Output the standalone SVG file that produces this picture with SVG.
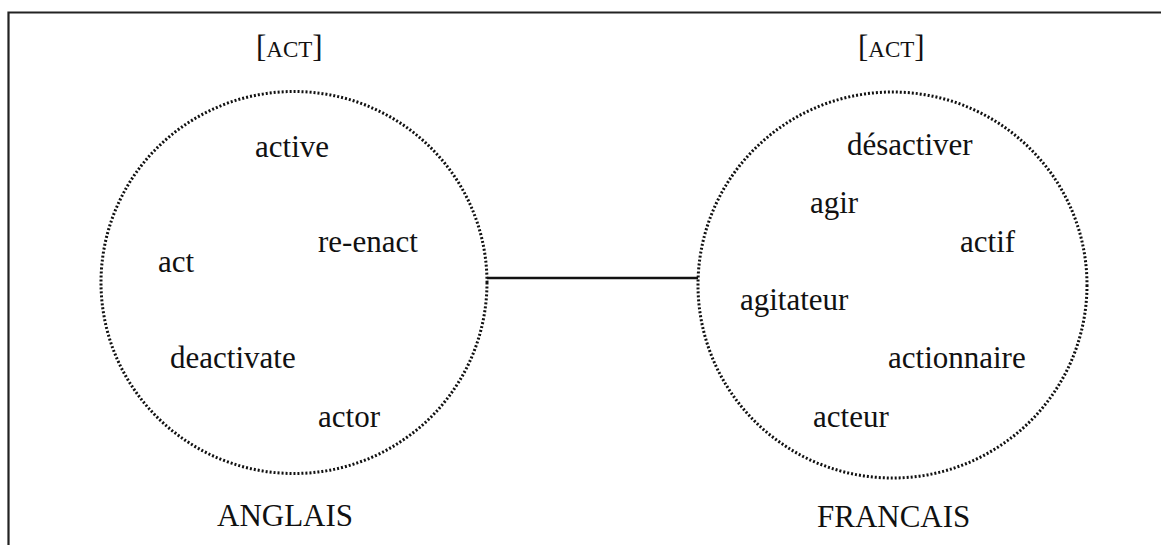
<svg xmlns="http://www.w3.org/2000/svg" width="1161" height="545" viewBox="0 0 1161 545">
<style>
.t{font-family:"Liberation Serif","Times New Roman",serif;font-size:31px;fill:#111}
.sc{font-size:23px}
.circ{fill:none;stroke:#111;stroke-width:3;stroke-dasharray:2 2}
.frame{fill:none;stroke:#222;stroke-width:2.2}
.conn{stroke:#111;stroke-width:2.6}
</style>
<rect width="1161" height="545" fill="#fff"/>
<path class="frame" d="M8.5 545 V12.5 H1161"/>
<g id="connectors">
<line class="conn" x1="487" y1="278" x2="698" y2="278"/>
</g>
<g id="node-anglais">
<ellipse class="circ" cx="294" cy="282.5" rx="193" ry="191"/>
<text class="t" x="256" y="57">[<tspan class="sc">ACT</tspan>]</text>
<text class="t" x="255" y="157">active</text>
<text class="t" x="318" y="252">re-enact</text>
<text class="t" x="158" y="272">act</text>
<text class="t" x="170" y="368">deactivate</text>
<text class="t" x="318" y="427">actor</text>
<text class="t" x="217" y="526">ANGLAIS</text>
</g>
<g id="node-francais">
<ellipse class="circ" cx="892.5" cy="285" rx="194.5" ry="193"/>
<text class="t" x="858" y="57">[<tspan class="sc">ACT</tspan>]</text>
<text class="t" x="847" y="155">désactiver</text>
<text class="t" x="810" y="213">agir</text>
<text class="t" x="960" y="252">actif</text>
<text class="t" x="740" y="310">agitateur</text>
<text class="t" x="888" y="368">actionnaire</text>
<text class="t" x="813" y="427">acteur</text>
<text class="t" x="817" y="527">FRANCAIS</text>
</g>
</svg>
